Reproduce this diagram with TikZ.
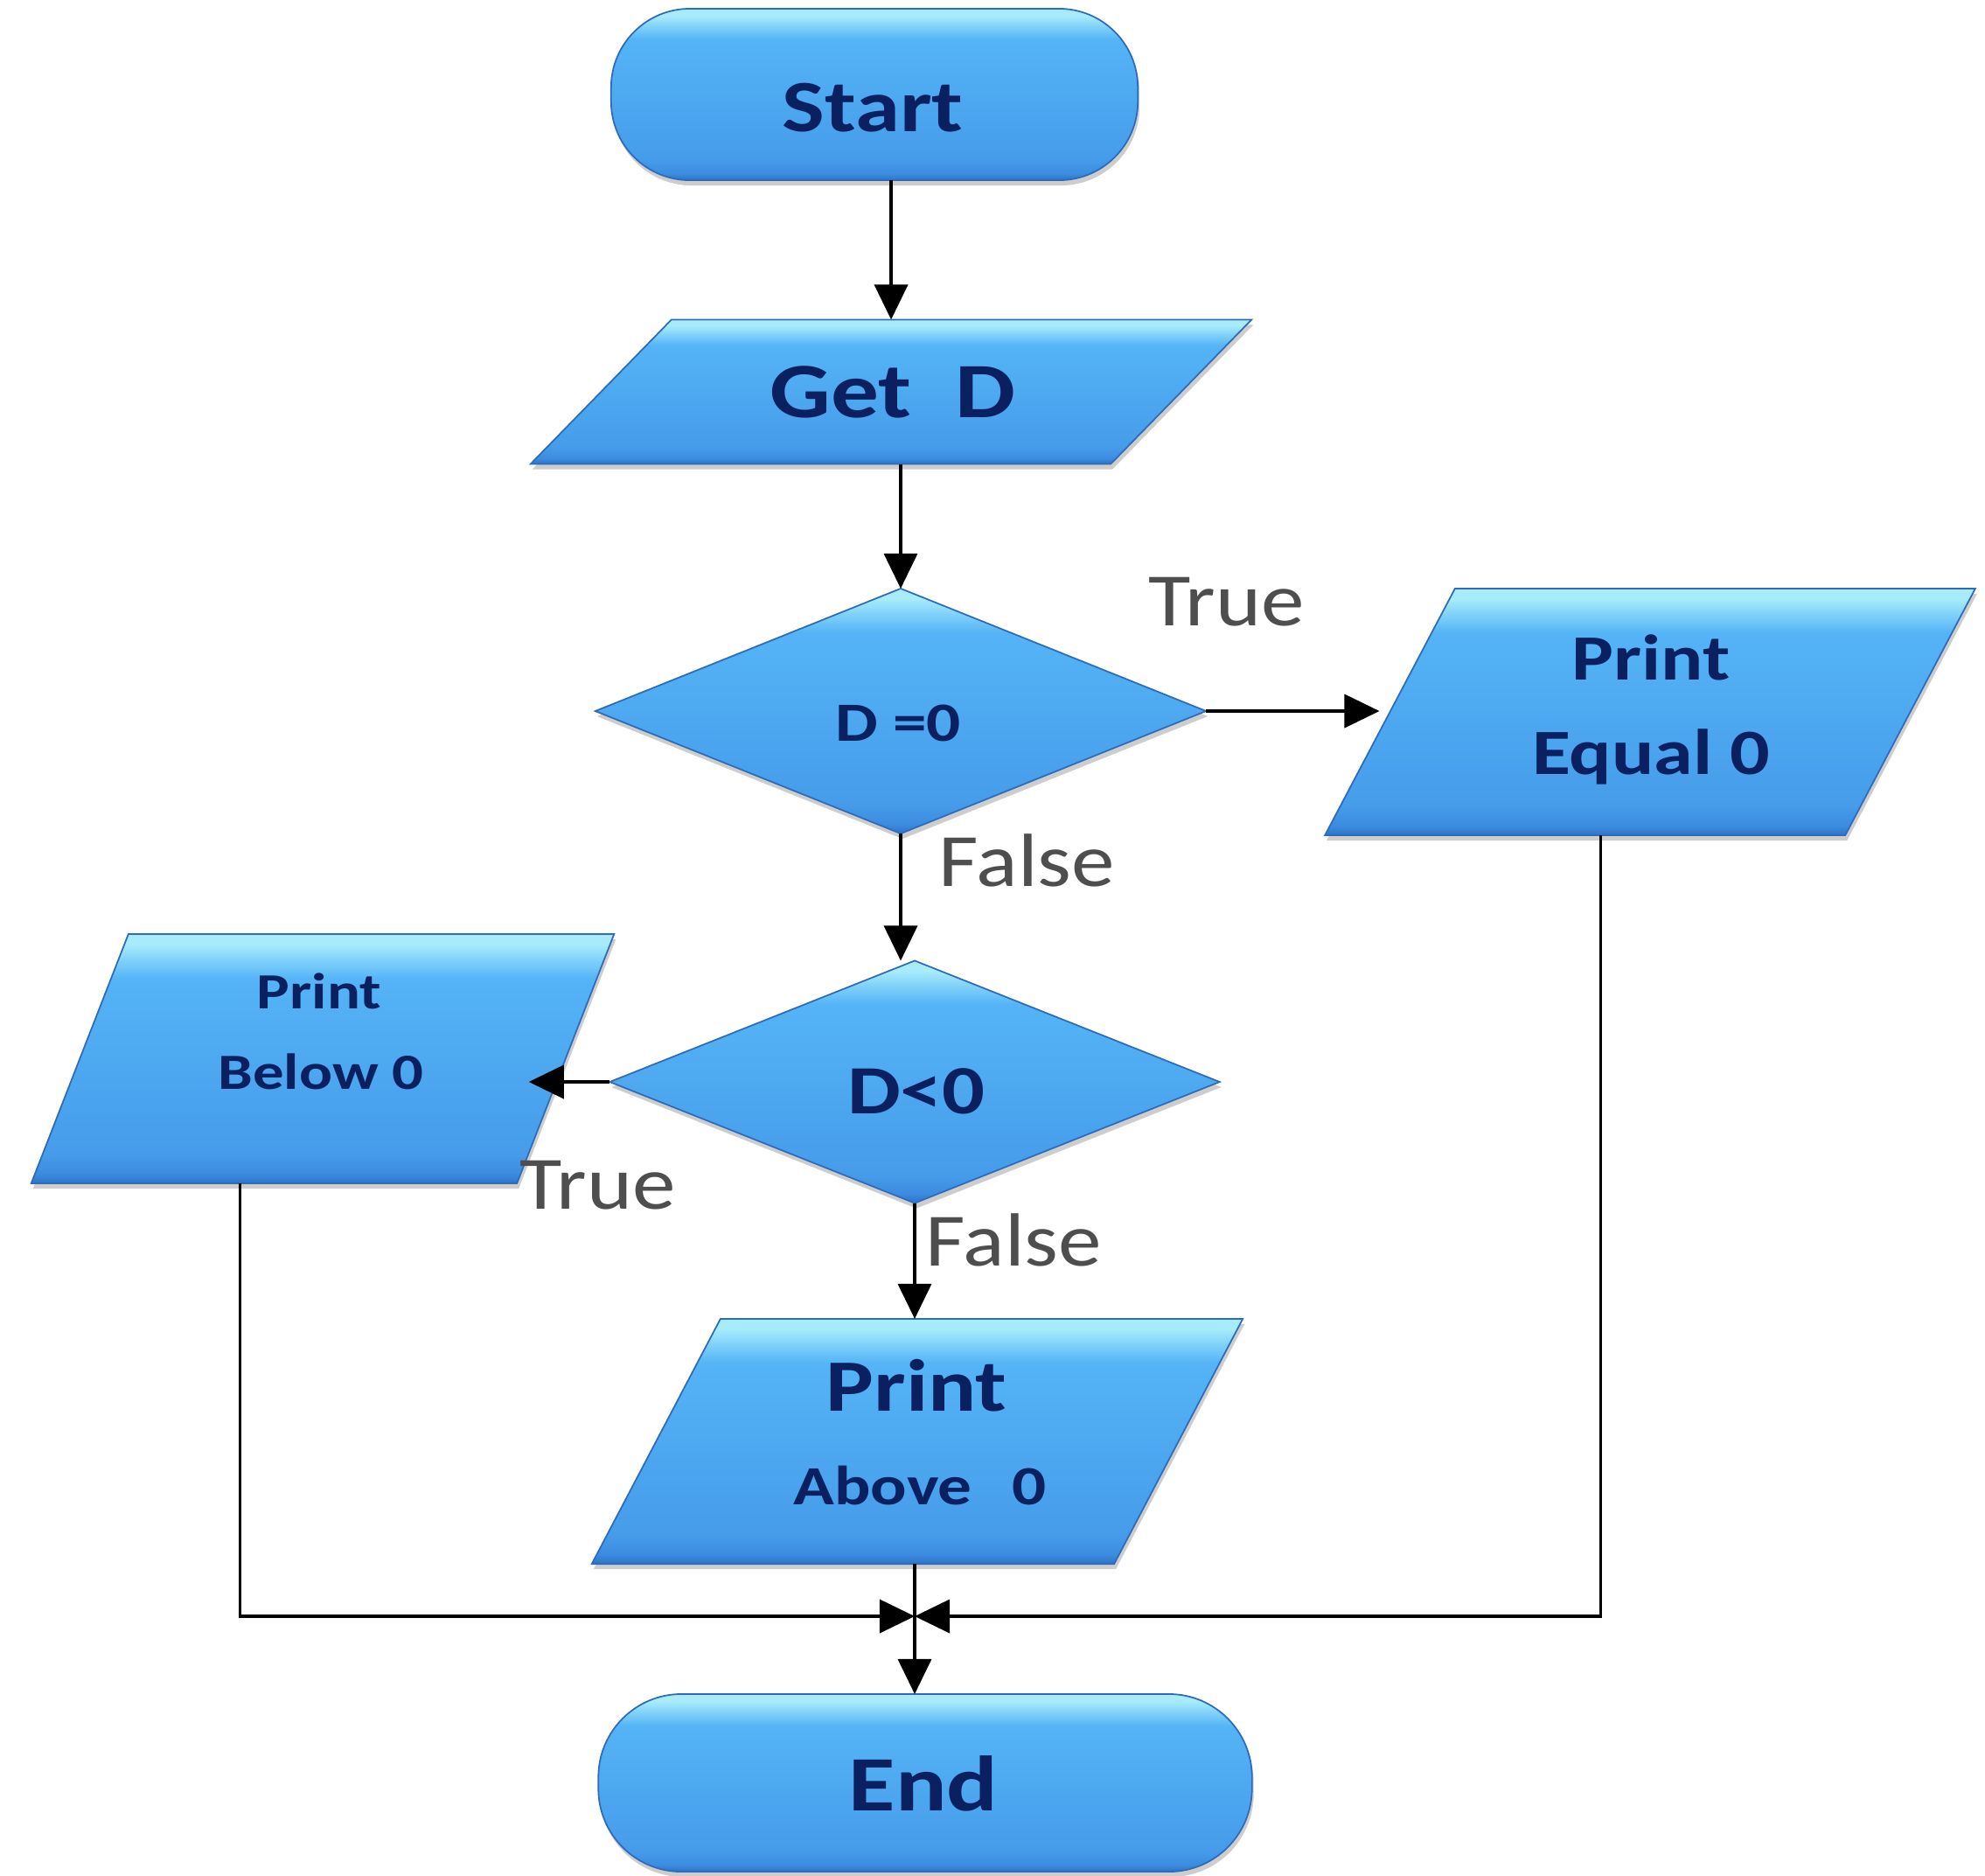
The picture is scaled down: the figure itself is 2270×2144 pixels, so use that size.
\documentclass[tikz,border=0pt]{standalone}
\usepackage{fontspec}
\newfontfamily\fb{Carlito}[FakeStretch=1.22]
\newfontfamily\fl{Carlito}[FakeStretch=1.15]
\usetikzlibrary{shapes.geometric,shadows,arrows.meta,calc}
\definecolor{blo}{RGB}{60,140,224}
\definecolor{bdark}{RGB}{44,116,200}
\definecolor{bmainlo}{RGB}{70,156,234}
\definecolor{bmainhi}{RGB}{84,180,246}
\definecolor{blight}{RGB}{168,236,252}
\definecolor{bedge}{RGB}{46,108,186}
\definecolor{ink}{RGB}{10,32,96}
\definecolor{lbl}{RGB}{78,78,78}
\pgfdeclareverticalshading{bevel}{100bp}{color(0bp)=(bdark); color(25bp)=(bdark); color(27bp)=(blo); color(31bp)=(bmainlo); color(66bp)=(bmainhi); color(70bp)=(blight!55!bmainhi); color(73bp)=(blight); color(75bp)=(blight); color(100bp)=(blight)}
\tikzset{
  blk/.style={shading=bevel, draw=bedge, line width=0.5pt, inner sep=0pt, outer sep=0pt,
    drop shadow={shadow xshift=0.02cm, shadow yshift=-0.06cm, opacity=0.28, fill=black!70}},
  term/.style={blk, rectangle},
  io/.style={blk, trapezium},
  dec/.style={blk, diamond},
  txt/.style={text=ink, anchor=base, inner sep=0pt},
  lab/.style={text=lbl, anchor=base west, inner sep=0pt, font=\fl\fontsize{24.5}{28}\selectfont},
  arr/.style={line width=1pt, -{Triangle[length=0.4cm,width=0.38cm]}},
}
\begin{document}
\begin{tikzpicture}[x=0.01cm, y=-0.01cm]
\fill[white] (0,0) rectangle (2270,2144);
\useasboundingbox (0,0) rectangle (2270,2144);

% shapes
\node[term, minimum width=6.02cm, minimum height=1.96cm, rounded corners=0.9cm] (start) at (1000,108) {};
\node[io, trapezium left angle=45.7, trapezium right angle=134.3, text width=5.02cm, text height=0.825cm, text depth=0.825cm] (getd) at (1019,448) {};
\node[dec, minimum width=6.98cm, minimum height=2.8cm] (d0) at (1030,813) {};
\node[io, trapezium left angle=62.2, trapezium right angle=117.8, text width=4.46cm, text height=1.41cm, text depth=1.41cm] (peq) at (1887,814) {};
\node[dec, minimum width=6.97cm, minimum height=2.77cm] (dlt) at (1046,1237) {};
\node[io, trapezium left angle=68.7, trapezium right angle=111.3, text width=4.44cm, text height=1.425cm, text depth=1.425cm] (pbelow) at (369,1210.5) {};
\node[io, trapezium left angle=62.3, trapezium right angle=117.7, text width=4.50cm, text height=1.40cm, text depth=1.40cm] (pabove) at (1049,1648) {};
\node[term, minimum width=7.47cm, minimum height=2.03cm, rounded corners=0.95cm] (end) at (1058,2038.5) {};

% texts
\node[txt, font=\fb\bfseries\fontsize{24}{28}\selectfont] (startt) at (998,150) {Start};
\node[txt, font=\fb\bfseries\fontsize{25.5}{30}\selectfont] (getdt) at (1021,477) {Get\hspace{14pt}D};
\node[txt, font=\fb\bfseries\fontsize{18}{22}\selectfont] (d0t) at (1027,847) {D =0};
\node[txt, font=\fb\bfseries\fontsize{21}{25}\selectfont] (peqt1) at (1888,777) {Print};
\node[txt, font=\fb\bfseries\fontsize{21}{25}\selectfont] (peqt2) at (1888,885) {Equal 0};
\node[txt, font=\fb\bfseries\fontsize{22.5}{27}\selectfont] (dltt) at (1048,1273) {D<0};
\node[txt, font=\fb\bfseries\fontsize{16.5}{20}\selectfont] (pbelowt1) at (365,1153) {Print};
\node[txt, font=\fb\bfseries\fontsize{16.5}{20}\selectfont] (pbelowt2) at (367,1245) {Below 0};
\node[txt, font=\fb\bfseries\fontsize{24}{28}\selectfont] (pabovet1) at (1048,1613) {Print};
\node[txt, font=\fb\bfseries\fontsize{18}{22}\selectfont] (pabovet2) at (1052,1720) {Above\hspace{13pt}0};
\node[txt, font=\fb\bfseries\fontsize{25.5}{30}\selectfont] (endt) at (1056,2070) {End};

% labels
\node[lab] (true1) at (1313,715) {True};
\node[lab] (false1) at (1073,1013) {False};
\node[lab] (true2) at (594,1382) {True};
\node[lab] (false2) at (1058,1447) {False};

% connectors
\coordinate (merge) at (dlt.south |- 0,1848);
\draw[arr] (start.south -| getd.north) -- (getd.north);
\draw[arr] (getd.south -| d0.north) -- (d0.north);
\draw[arr, shorten >=0.12cm] (d0.east) -- (d0.east -| peq.west);
\draw[arr] (d0.south) -- (d0.south |- dlt.north);
\draw[arr, shorten >=-0.42cm] (dlt.west) -- (dlt.west -| pbelow.east);
\draw[arr] (dlt.south) -- (dlt.south |- pabove.north);
\draw[arr] (pabove.south -| dlt.south) -- (dlt.south |- end.north);
\draw[arr] ($(pbelow.bottom left corner)!0.43!(pbelow.bottom right corner)$) |- (merge);
\draw[arr] ($(peq.bottom left corner)!0.53!(peq.bottom right corner)$) |- (merge);
\end{tikzpicture}
\end{document}
